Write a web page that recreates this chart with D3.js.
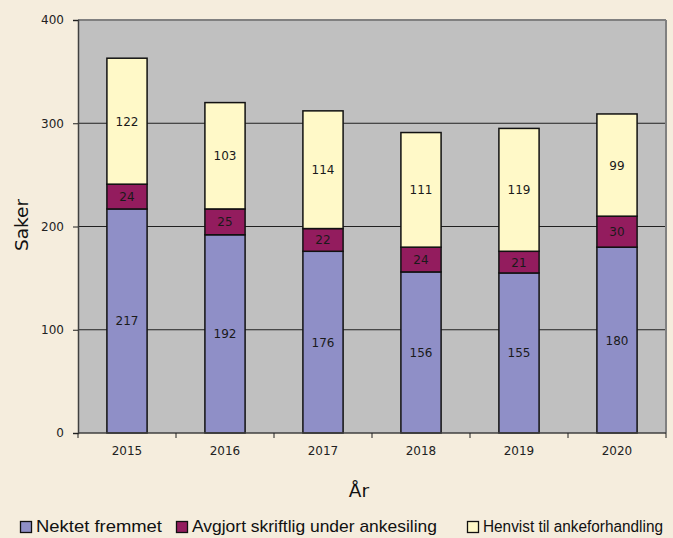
<!DOCTYPE html>
<html><head><meta charset="utf-8">
<script src="https://cdn.jsdelivr.net/npm/d3@7"></script>
<style>html,body{margin:0;padding:0;background:#f5eddd;}svg{display:block;}</style>
</head><body>
<svg id="c" width="673" height="538"></svg>
<script>
const years = ["2015","2016","2017","2018","2019","2020"];
const seriesNames = ["Nektet fremmet","Avgjort skriftlig under ankesiling","Henvist til ankeforhandling"];
const nektet = [217,192,176,156,155,180];
const avgjort = [24,25,22,24,21,30];
const henvist = [122,103,114,111,119,99];
const yTicks = [0,100,200,300,400];
const colors = ["#8f8fc7","#931c5e","#fff9c8"];

const svg = d3.select("#c");
const L=78,R=666,T=20,B=433;
const x = d3.scaleBand().domain(years).range([L,R]).paddingInner(0.59).paddingOuter(0.295);
const y = d3.scaleLinear().domain([0,400]).range([B,T]);

svg.append("rect").attr("width",673).attr("height",538).attr("fill","#f5eddd");
svg.append("rect").attr("x",L).attr("y",T).attr("width",R-L).attr("height",B-T).attr("fill","#c0c0c0");
svg.append("g").selectAll("line").data(yTicks.filter(d=>d>0&&d<400)).join("line")
  .attr("x1",L).attr("x2",R).attr("y1",d=>y(d)).attr("y2",d=>y(d)).attr("stroke","#202020").attr("stroke-width",1);
svg.append("line").attr("x1",L).attr("x2",R).attr("y1",T).attr("y2",T).attr("stroke","#808080").attr("stroke-width",2);
svg.append("line").attr("x1",R).attr("x2",R).attr("y1",T).attr("y2",B).attr("stroke","#808080").attr("stroke-width",2);

const table = years.map((yr,i)=>({year:yr,s0:nektet[i],s1:avgjort[i],s2:henvist[i]}));
const stack = d3.stack().keys(["s0","s1","s2"])(table);
const g = svg.append("g");
stack.forEach((layer,k)=>{
  g.append("g").selectAll("rect").data(layer).join("rect")
    .attr("x",d=>x(d.data.year)).attr("width",x.bandwidth())
    .attr("y",d=>y(d[1])).attr("height",d=>y(d[0])-y(d[1]))
    .attr("fill",colors[k]).attr("stroke","#111").attr("stroke-width",1.5);
  g.append("g").selectAll("text").data(layer).join("text")
    .attr("x",d=>x(d.data.year)+x.bandwidth()/2).attr("y",d=>(y(d[0])+y(d[1]))/2+4.5)
    .attr("text-anchor","middle").attr("font-family","DejaVu Sans").attr("font-size",12)
    .attr("fill","#1a1a1a").text(d=>d[1]-d[0]);
});

const ya = svg.append("g").attr("transform",`translate(${L},0)`)
  .call(d3.axisLeft(y).tickValues(yTicks).tickSize(5).tickPadding(9));
ya.select(".domain").attr("stroke","#404040").attr("stroke-width",1.5);
ya.selectAll(".tick line").attr("stroke","#202020");
ya.selectAll("text").attr("font-family","DejaVu Sans").attr("font-size",12).attr("fill","#222");

const xa = svg.append("g").attr("transform",`translate(0,${B})`);
xa.append("line").attr("x1",L).attr("x2",R).attr("stroke","#404040").attr("stroke-width",1.5);
const bounds = d3.range(years.length+1).map(i=>L+i*(R-L)/years.length);
xa.selectAll("line.t").data(bounds).join("line").attr("class","t")
  .attr("x1",d=>d).attr("x2",d=>d).attr("y1",0).attr("y2",5).attr("stroke","#202020");
xa.selectAll("text").data(years).join("text")
  .attr("x",d=>x(d)+x.bandwidth()/2).attr("y",22).attr("text-anchor","middle")
  .attr("font-family","DejaVu Sans").attr("font-size",12).attr("fill","#222").text(d=>d);

svg.append("text").attr("transform","translate(28,225) rotate(-90)").attr("text-anchor","middle")
  .attr("font-family","DejaVu Sans").attr("font-size",18.5).attr("fill","#111").text("Saker");
svg.append("text").attr("x",359).attr("y",497).attr("text-anchor","middle")
  .attr("font-family","DejaVu Sans").attr("font-size",18.5).attr("fill","#111").text("År");

const lx = [20,176,467];
const tw = [126,245,180];
const fs = [17,17,15.8];
const lg = svg.append("g");
seriesNames.forEach((n,i)=>{
  lg.append("rect").attr("x",lx[i]+0.5).attr("y",521.5).attr("width",11).attr("height",11)
    .attr("fill",colors[i]).attr("stroke","#111").attr("stroke-width",1.3);
  lg.append("text").attr("x",lx[i]+16).attr("y",532).attr("font-family","Liberation Sans, Arial")
    .attr("font-size",fs[i]).attr("fill","#111").attr("textLength",tw[i]).attr("lengthAdjust","spacingAndGlyphs").text(n);
});
</script>
</body></html>
